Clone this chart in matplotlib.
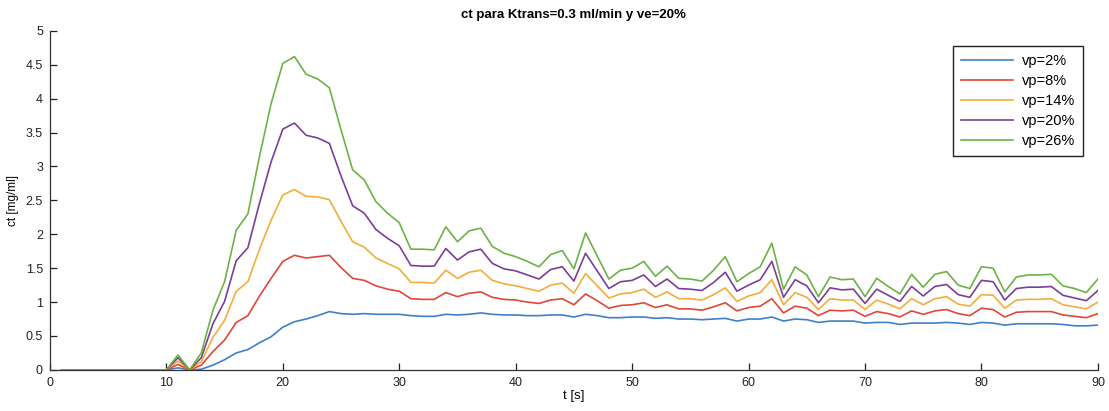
import numpy as np
import matplotlib
matplotlib.use('Agg')
import matplotlib.pyplot as plt
from matplotlib.ticker import FuncFormatter

plt.rcParams['font.family'] = ['Liberation Sans', 'DejaVu Sans']

t = list(range(1, 91))
zeros10 = [0.0] * 10

# vp = 2 %
ct_vp2 = zeros10 + [0.03, 0.0, 0.01, 0.07, 0.15, 0.25, 0.30, 0.40, 0.49, 0.63,
                    0.71, 0.75, 0.80, 0.86, 0.83, 0.82, 0.83, 0.82, 0.82, 0.82,
                    0.80, 0.79, 0.79, 0.82, 0.81, 0.82, 0.84, 0.82, 0.81, 0.81,
                    0.80, 0.80, 0.81, 0.81, 0.78, 0.82, 0.80, 0.77, 0.77, 0.78,
                    0.78, 0.76, 0.77, 0.75, 0.75, 0.74, 0.75, 0.76, 0.72, 0.75,
                    0.75, 0.78, 0.72, 0.75, 0.74, 0.70, 0.72, 0.72, 0.72, 0.69,
                    0.70, 0.70, 0.67, 0.69, 0.69, 0.69, 0.70, 0.69, 0.67, 0.70,
                    0.69, 0.66, 0.68, 0.68, 0.68, 0.68, 0.67, 0.65, 0.65, 0.66]
# vp = 8 %
ct_vp8 = zeros10 + [0.08, 0.0, 0.07, 0.27, 0.44, 0.70, 0.80, 1.09, 1.35, 1.60,
                    1.69, 1.65, 1.67, 1.69, 1.51, 1.35, 1.32, 1.24, 1.19, 1.16,
                    1.05, 1.04, 1.04, 1.14, 1.08, 1.13, 1.15, 1.07, 1.04, 1.03,
                    1.00, 0.98, 1.03, 1.05, 0.96, 1.12, 1.02, 0.91, 0.95, 0.96,
                    0.99, 0.92, 0.96, 0.90, 0.90, 0.88, 0.93, 0.99, 0.87, 0.92,
                    0.94, 1.05, 0.84, 0.94, 0.91, 0.80, 0.88, 0.87, 0.88, 0.79,
                    0.86, 0.83, 0.78, 0.87, 0.82, 0.87, 0.89, 0.83, 0.80, 0.91,
                    0.89, 0.78, 0.85, 0.86, 0.86, 0.86, 0.81, 0.79, 0.77, 0.83]
# vp = 14 %
ct_vp14 = zeros10 + [0.13, 0.0, 0.12, 0.48, 0.73, 1.16, 1.30, 1.78, 2.21, 2.58,
                     2.66, 2.56, 2.55, 2.51, 2.19, 1.89, 1.81, 1.65, 1.57, 1.49,
                     1.29, 1.29, 1.28, 1.47, 1.35, 1.44, 1.47, 1.32, 1.27, 1.24,
                     1.20, 1.16, 1.25, 1.28, 1.13, 1.42, 1.24, 1.06, 1.12, 1.14,
                     1.19, 1.07, 1.15, 1.05, 1.05, 1.03, 1.11, 1.21, 1.01, 1.09,
                     1.14, 1.33, 0.96, 1.14, 1.07, 0.89, 1.05, 1.03, 1.03, 0.89,
                     1.03, 0.97, 0.90, 1.05, 0.96, 1.05, 1.08, 0.97, 0.94, 1.11,
                     1.10, 0.91, 1.03, 1.04, 1.04, 1.05, 0.96, 0.93, 0.90, 1.00]
# vp = 20 %
ct_vp20 = zeros10 + [0.18, 0.0, 0.18, 0.68, 1.01, 1.61, 1.80, 2.46, 3.07, 3.55,
                     3.64, 3.46, 3.42, 3.34, 2.86, 2.42, 2.31, 2.07, 1.94, 1.83,
                     1.54, 1.53, 1.53, 1.79, 1.62, 1.74, 1.78, 1.57, 1.49, 1.46,
                     1.40, 1.34, 1.48, 1.52, 1.31, 1.72, 1.46, 1.20, 1.30, 1.32,
                     1.40, 1.23, 1.34, 1.20, 1.19, 1.17, 1.29, 1.44, 1.16, 1.25,
                     1.33, 1.60, 1.07, 1.33, 1.24, 0.99, 1.21, 1.18, 1.19, 0.98,
                     1.19, 1.10, 1.01, 1.23, 1.09, 1.23, 1.26, 1.11, 1.07, 1.32,
                     1.30, 1.03, 1.20, 1.22, 1.22, 1.23, 1.10, 1.06, 1.02, 1.17]
# vp = 26 %
ct_vp26 = zeros10 + [0.22, 0.0, 0.25, 0.88, 1.30, 2.06, 2.30, 3.15, 3.93, 4.52,
                     4.62, 4.36, 4.29, 4.16, 3.54, 2.95, 2.80, 2.48, 2.31, 2.17,
                     1.78, 1.78, 1.77, 2.11, 1.89, 2.05, 2.09, 1.82, 1.72, 1.67,
                     1.60, 1.52, 1.70, 1.76, 1.49, 2.02, 1.68, 1.34, 1.47, 1.50,
                     1.60, 1.38, 1.53, 1.35, 1.34, 1.31, 1.47, 1.67, 1.30, 1.42,
                     1.52, 1.87, 1.19, 1.52, 1.40, 1.08, 1.37, 1.33, 1.34, 1.08,
                     1.35, 1.23, 1.12, 1.41, 1.22, 1.41, 1.45, 1.25, 1.20, 1.52,
                     1.50, 1.15, 1.37, 1.40, 1.40, 1.41, 1.24, 1.20, 1.14, 1.34]

series = [ct_vp2, ct_vp8, ct_vp14, ct_vp20, ct_vp26]
labels = ['vp=2%', 'vp=8%', 'vp=14%', 'vp=20%', 'vp=26%']
colors = ['#3f80c8', '#e0463a', '#f2ad3a', '#7a3f96', '#6cb246']

fig = plt.figure(figsize=(11.09, 4.11), dpi=100)
ax = fig.add_axes([0.045, 0.1, 0.945, 0.825])

for y, lab, c in zip(series, labels, colors):
    ax.plot(t, y, color=c, lw=1.2, label=lab)

ax.set_xlim(0, 90)
ax.set_ylim(0, 5)
ax.set_xticks(range(0, 91, 10))
ax.set_yticks(np.arange(0, 5.01, 0.5))
ax.yaxis.set_major_formatter(FuncFormatter(lambda v, p: '%g' % v))
ax.tick_params(direction='in', length=5, width=0.9, labelsize=9, colors='#222222', pad=5)
for s in ['top', 'right']:
    ax.spines[s].set_visible(False)
for s in ['left', 'bottom']:
    ax.spines[s].set_color('#333333')
    ax.spines[s].set_linewidth(0.9)

ax.set_title('ct para Ktrans=0.3 ml/min y ve=20%', fontsize=9.5, fontweight='bold', pad=9)
ax.set_xlabel('t [s]', fontsize=9.5, labelpad=1)
ax.set_ylabel('ct [mg/ml]', fontsize=8.5, labelpad=5)

leg = ax.legend(loc='upper right', bbox_to_anchor=(0.986, 0.956), borderaxespad=0,
                fontsize=10.5, fancybox=False, framealpha=1, edgecolor='#222222',
                handlelength=3.6, labelspacing=0.42, borderpad=0.55, handletextpad=0.6)
leg.get_frame().set_linewidth(1.0)

fig.savefig('out.png', dpi=100)
